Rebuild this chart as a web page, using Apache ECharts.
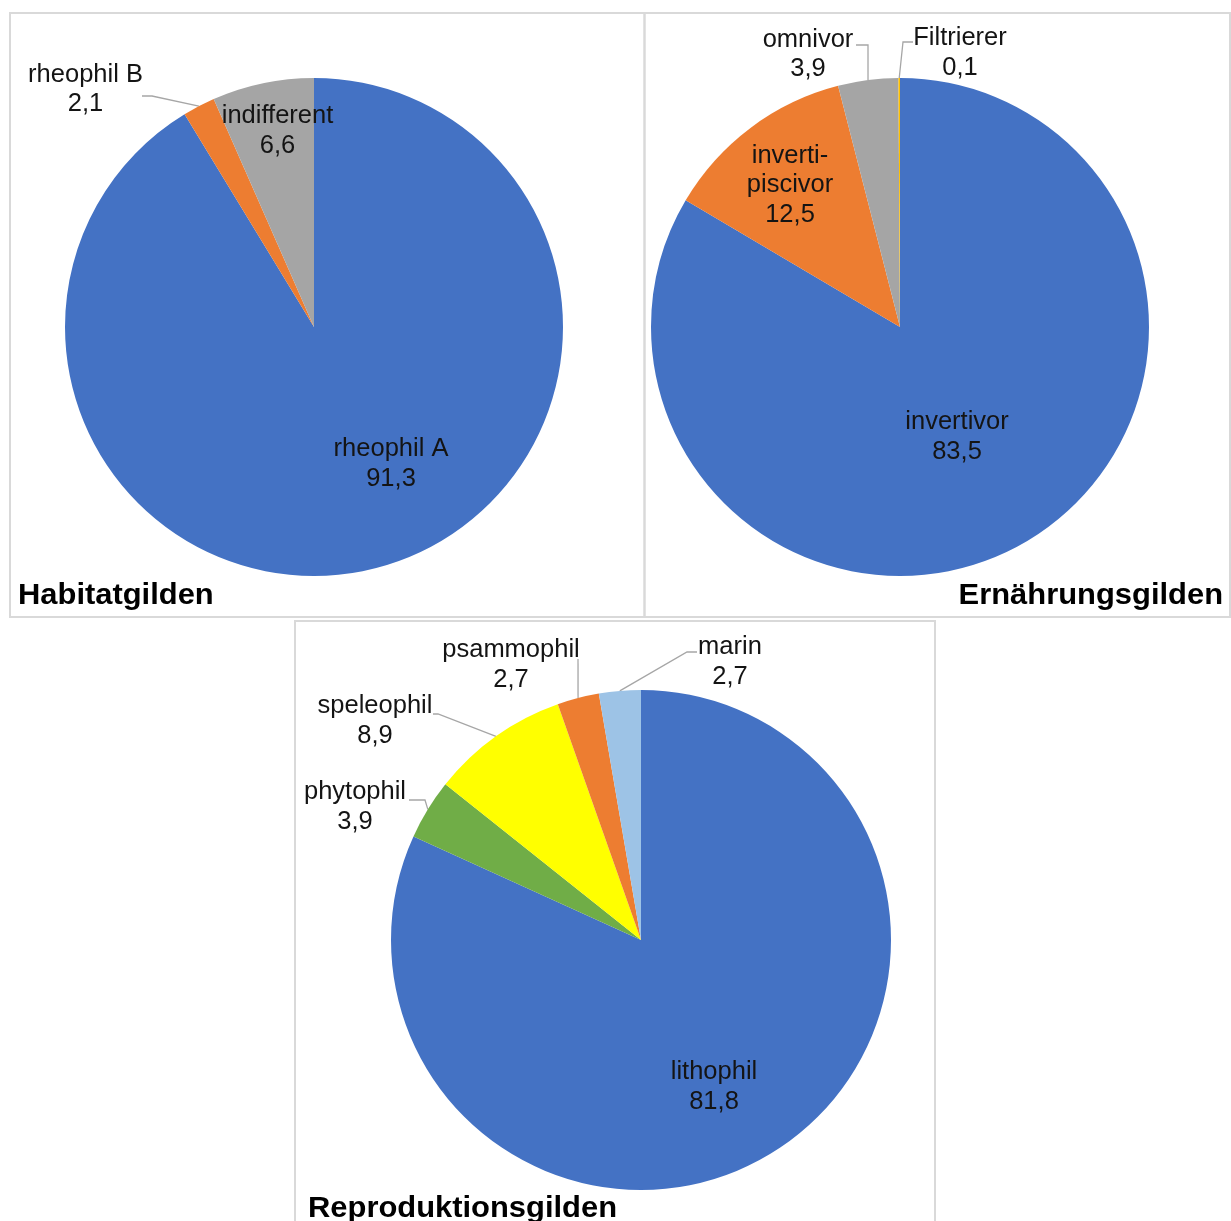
<!DOCTYPE html>
<html>
<head>
<meta charset="utf-8">
<script src="https://cdn.jsdelivr.net/npm/echarts@6/dist/echarts.min.js"></script>
<style>
  html, body { margin: 0; padding: 0; background: #fff; }
  #chart { width: 1231px; height: 1221px; }
</style>
</head>
<body>
<div id="chart"></div>
<script>
// Gilden shares (percent)
const habitatNames = ['rheophil A', 'rheophil B', 'indifferent'];
const habitatValues = [91.3, 2.1, 6.6];

const dietNames = ['invertivor', 'inverti-piscivor', 'omnivor', 'Filtrierer'];
const dietValues = [83.5, 12.5, 3.9, 0.1];

const reproNames = ['lithophil', 'phytophil', 'speleophil', 'psammophil', 'marin'];
const reproValues = [81.8, 3.9, 8.9, 2.7, 2.7];

const panelTitles = ['Habitatgilden', 'Ernährungsgilden', 'Reproduktionsgilden'];

// ---- styling / placement ----
const FONT = '"Liberation Sans", Arial, Helvetica, sans-serif';
const LINE_COLOR = '#A6A6A6';
const TEXT_SHIFT = 2; // baseline nudge for data labels

// label placement: off = text centre relative to pie centre,
// attach = leader line start relative to text centre, h = horizontal elbow
const pies = [
  {
    names: habitatNames, values: habitatValues,
    center: [314, 327], r: 249,
    colors: ['#4472C4', '#ED7D31', '#A5A5A5'],
    labels: [
      { off: [77, 135] },
      { off: [-228.5, -239.5], attach: [56.5, 6.5], h: 10 },
      { off: [-36.5, -198] }
    ]
  },
  {
    names: dietNames, values: dietValues,
    center: [900, 327], r: 249,
    colors: ['#4472C4', '#ED7D31', '#A5A5A5', '#FFC000'],
    labels: [
      { off: [57, 108] },
      { off: [-110, -144] },
      { off: [-92, -274.5], attach: [48, -9.5], h: 12 },
      { off: [60, -276], attach: [-47, -11], h: -10 }
    ]
  },
  {
    names: reproNames, values: reproValues,
    center: [641, 940], r: 250,
    colors: ['#4472C4', '#70AD47', '#FFFF00', '#ED7D31', '#9DC3E6'],
    labels: [
      { off: [73, 145] },
      { off: [-286, -135], attach: [54, -7], h: 16 },
      { off: [-266, -221], attach: [58, -7], h: 5 },
      { off: [-130, -277], attach: [67, -6], h: 0 },
      { off: [89, -280], attach: [-33, -10], h: -10 }
    ]
  }
];

const chart = echarts.init(document.getElementById('chart'), null, { renderer: 'canvas' });

function fmt(p) {
  return p.name.replace('-', '-\n') + '\n' + p.value.toFixed(1).replace('.', ',');
}

function placeLabel(params) {
  const p = pies[params.seriesIndex];
  const L = p.labels[params.dataIndex];
  const x = p.center[0] + L.off[0];
  const y = p.center[1] + L.off[1] + TEXT_SHIFT;
  const res = { x: x, y: y, align: 'center', verticalAlign: 'middle' };
  if (L.attach) {
    const lay = chart.getModel().getSeriesByIndex(params.seriesIndex)
      .getData().getItemLayout(params.dataIndex);
    const mid = (lay.startAngle + lay.endAngle) / 2;
    const edge = [lay.cx + lay.r * Math.cos(mid), lay.cy + lay.r * Math.sin(mid)];
    const a = [x + L.attach[0], y + L.attach[1]];
    res.labelLinePoints = [edge, [a[0] + L.h, a[1]], a];
  }
  return res;
}

const series = pies.map(function (p) {
  return {
    type: 'pie',
    center: p.center,
    radius: [0, p.r],
    startAngle: 90,
    clockwise: true,
    avoidLabelOverlap: false,
    animation: false,
    silent: true,
    padAngle: 0,
    itemStyle: { borderWidth: 0, borderRadius: 0 },
    emphasis: { disabled: true },
    label: {
      show: true,
      position: 'outside',
      formatter: fmt,
      fontFamily: FONT,
      fontSize: 25.5,
      lineHeight: 29.5,
      color: '#141414',
      align: 'center'
    },
    labelLine: {
      show: true,
      smooth: false,
      lineStyle: { color: LINE_COLOR, width: 1.3 }
    },
    labelLayout: placeLabel,
    data: p.values.map(function (v, i) {
      const item = { name: p.names[i], value: v, itemStyle: { color: p.colors[i] } };
      if (!p.labels[i].attach) {
        item.labelLine = { show: false };
      }
      return item;
    })
  };
});

const BORDER = '#D9D9D9';
function titleText(text, x, y, align) {
  return {
    type: 'text', z: 10, silent: true,
    x: x, y: y, scaleX: 1.03,
    style: { text: text, x: 0, y: 0, fill: '#000',
      font: 'bold 30px ' + FONT, textAlign: align, textVerticalAlign: 'middle' }
  };
}
const graphic = [
  { type: 'rect', shape: { x: 10, y: 13, width: 634.5, height: 604 },
    style: { fill: 'none', stroke: BORDER, lineWidth: 2 }, silent: true },
  { type: 'rect', shape: { x: 644.5, y: 13, width: 585.5, height: 604 },
    style: { fill: 'none', stroke: BORDER, lineWidth: 2 }, silent: true },
  { type: 'rect', shape: { x: 295, y: 621, width: 640, height: 640 },
    style: { fill: 'none', stroke: BORDER, lineWidth: 2 }, silent: true },
  titleText(panelTitles[0], 18, 595.5, 'left'),
  titleText(panelTitles[1], 1223, 595.5, 'right'),
  titleText(panelTitles[2], 308, 1209, 'left')
];

chart.setOption({
  backgroundColor: '#fff',
  animation: false,
  series: series,
  graphic: graphic
});
</script>
</body>
</html>
